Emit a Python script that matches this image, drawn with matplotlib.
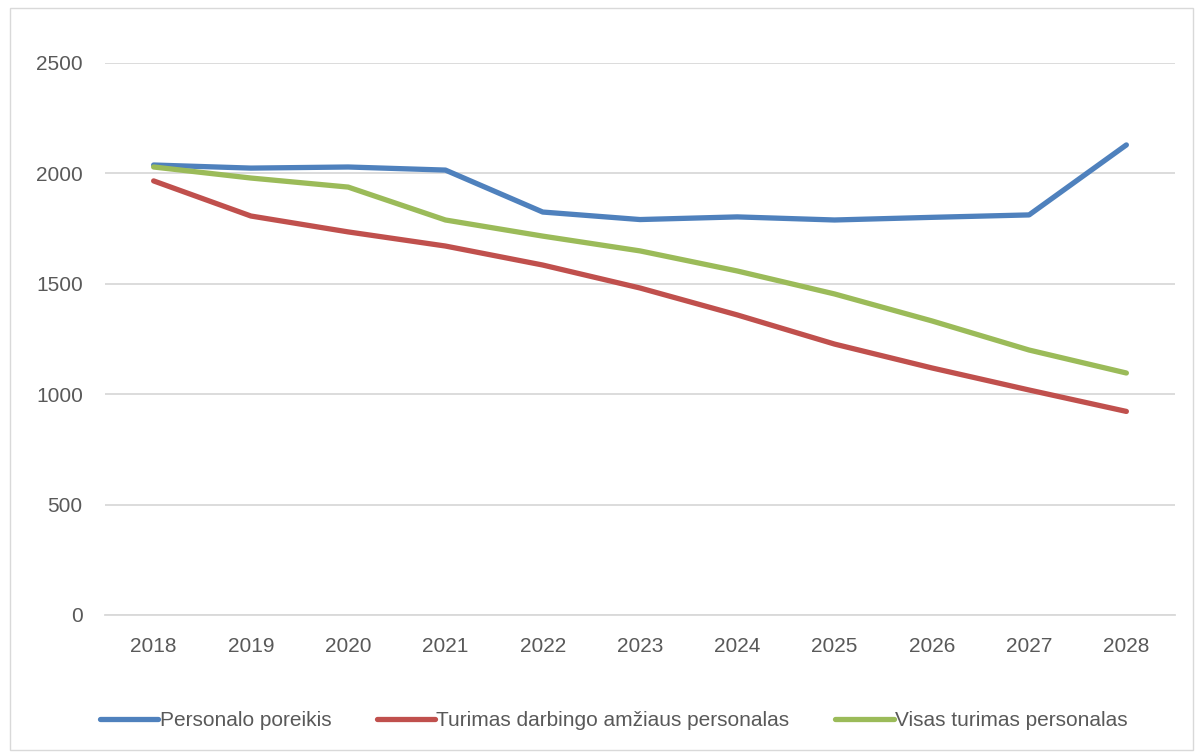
import matplotlib
matplotlib.use("Agg")
import matplotlib.pyplot as plt
from matplotlib.patches import Rectangle

years = ["2018", "2019", "2020", "2021", "2022", "2023", "2024", "2025", "2026", "2027", "2028"]
poreikis = [2038, 2024, 2029, 2015, 1825, 1791, 1803, 1789, 1801, 1812, 2129]
darbingo = [1966, 1807, 1735, 1671, 1585, 1481, 1359, 1227, 1119, 1019, 922]
visas    = [2029, 1979, 1938, 1789, 1716, 1649, 1558, 1454, 1332, 1200, 1096]

labels = ["Personalo poreikis", "Turimas darbingo amžiaus personalas", "Visas turimas personalas"]
colors = ["#4F81BD", "#C0504D", "#9BBB59"]

plt.rcParams["font.family"] = ["Liberation Sans", "DejaVu Sans"]

fig = plt.figure(figsize=(12.01, 7.53), dpi=100)
ax = fig.add_axes([105/1201, 1 - 615/753, 1070/1201, 552/753])

x = range(len(years))
for vals, lab, col in zip([poreikis, darbingo, visas], labels, colors):
    ax.plot(x, vals, color=col, lw=3.8, label=lab, solid_capstyle="round", solid_joinstyle="round")

ax.set_xlim(-0.5, len(years) - 0.5)
ax.set_ylim(0, 2500)
ax.set_yticks(range(0, 2501, 500))
ax.set_xticks(list(x))
ax.set_xticklabels(years)
ax.grid(axis="y", color="#D9D9D9", lw=1.3)
ax.set_axisbelow(True)
for s in ["top", "right", "left"]:
    ax.spines[s].set_visible(False)
ax.spines["bottom"].set_color("#D9D9D9")
ax.spines["bottom"].set_linewidth(1.3)
ax.tick_params(axis="both", length=0, labelsize=15, colors="#595959")
ax.tick_params(axis="x", pad=16)
ax.tick_params(axis="y", pad=16)

leg = fig.legend(loc="center", bbox_to_anchor=(0.511, 1 - 721/753), ncol=3, frameon=False,
                 fontsize=15, handlelength=2.8, handletextpad=0.05, columnspacing=2.2)
for t in leg.get_texts():
    t.set_color("#595959")

fig.patches.append(Rectangle((10/1201, 1 - 750/753), 1183/1201, 742/753, transform=fig.transFigure,
                             fill=False, edgecolor="#D9D9D9", lw=1.0))

fig.savefig("out.png", dpi=100)
